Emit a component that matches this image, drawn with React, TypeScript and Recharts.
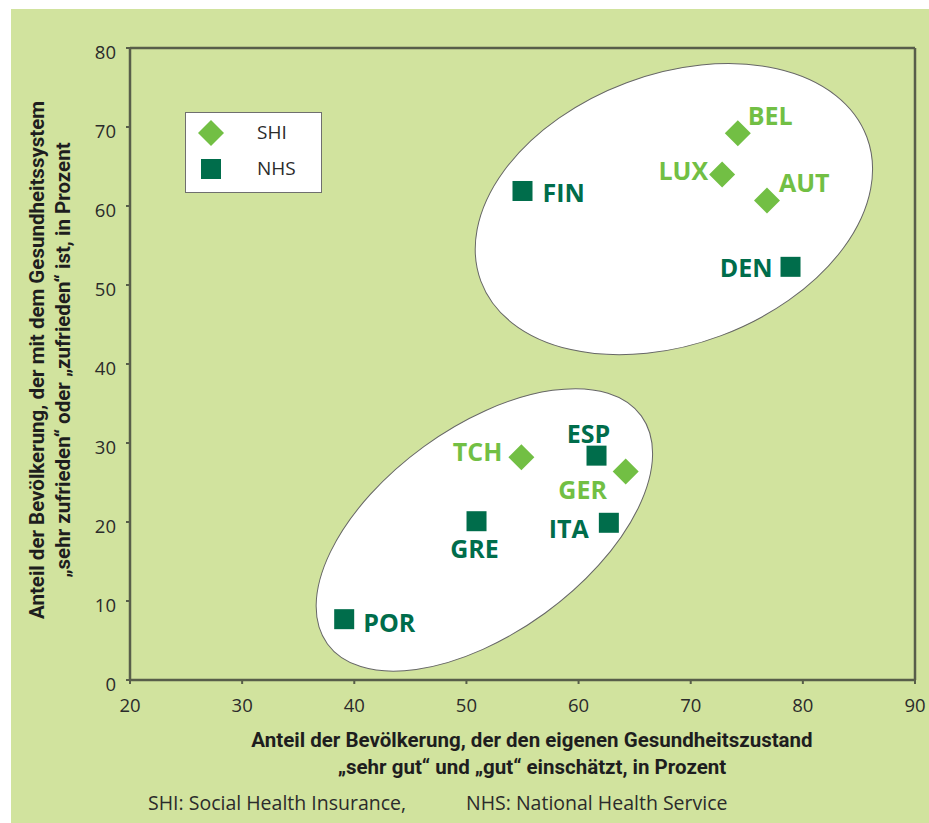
import React from 'react';
import { ScatterChart, Scatter, XAxis, YAxis, ReferenceLine } from 'recharts';

// ---- data ----
const shiPoints = [
  { name: 'BEL', x: 74.2, y: 69.2 },
  { name: 'LUX', x: 72.8, y: 64.0 },
  { name: 'AUT', x: 76.8, y: 60.7 },
  { name: 'TCH', x: 54.9, y: 28.2 },
  { name: 'GER', x: 64.2, y: 26.4 },
];
const nhsPoints = [
  { name: 'FIN', x: 55.0, y: 61.9 },
  { name: 'DEN', x: 78.9, y: 52.3 },
  { name: 'ESP', x: 61.6, y: 28.4 },
  { name: 'GRE', x: 50.9, y: 20.1 },
  { name: 'ITA', x: 62.7, y: 19.9 },
  { name: 'POR', x: 39.1, y: 7.7 },
];
const clusterCenters = [
  { name: 'high', x: 68.5, y: 59.6 },
  { name: 'low', x: 51.6, y: 19.0 },
];
const xTicks = [20, 30, 40, 50, 60, 70, 80, 90];
const yTicks = [0, 10, 20, 30, 40, 50, 60, 70, 80];
const seriesNames = ['SHI', 'NHS'];

// ---- styles ----
const LIGHT = '#72bf44';
const DARK = '#006d4b';
const BG = '#d1e39e';
const AXIS = '#585e4a';
const FONT = '"Open Sans", "Noto Sans", sans-serif';

const ellipseStyle: Record<string, { rx: number; ry: number; rot: number }> = {
  high: { rx: 206, ry: 135, rot: -20.5 },
  low: { rx: 194, ry: 103, rot: -36 },
};

const labelPlacement: Record<string, { dx: number; dy: number; anchor: string }> = {
  BEL: { dx: 10, dy: -18, anchor: 'start' },
  LUX: { dx: -14, dy: -4, anchor: 'end' },
  AUT: { dx: 12, dy: -18, anchor: 'start' },
  TCH: { dx: -19, dy: -6, anchor: 'end' },
  GER: { dx: -43, dy: 18, anchor: 'middle' },
  FIN: { dx: 20, dy: 1, anchor: 'start' },
  DEN: { dx: -18, dy: 0, anchor: 'end' },
  ESP: { dx: -8, dy: -23, anchor: 'middle' },
  GRE: { dx: -2, dy: 27, anchor: 'middle' },
  ITA: { dx: -20, dy: 5, anchor: 'end' },
  POR: { dx: 19, dy: 3, anchor: 'start' },
};

const PointLabel = ({ cx, cy, name, color }: any) => {
  const p = labelPlacement[name] || { dx: 15, dy: 0, anchor: 'start' };
  return (
    <text
      x={cx + p.dx}
      y={cy + p.dy}
      textAnchor={p.anchor as any}
      dominantBaseline="central"
      fill={color}
      fontFamily={FONT}
      fontWeight={700}
      fontSize={25}
    >
      {name}
    </text>
  );
};

const DiamondShape = (props: any) => {
  const { cx, cy, payload } = props;
  const r = 13;
  return (
    <g>
      <polygon
        points={`${cx},${cy - r} ${cx + r},${cy} ${cx},${cy + r} ${cx - r},${cy}`}
        fill={LIGHT}
      />
      <PointLabel cx={cx} cy={cy} name={payload.name} color={LIGHT} />
    </g>
  );
};

const SquareShape = (props: any) => {
  const { cx, cy, payload } = props;
  const s = 20;
  return (
    <g>
      <rect x={cx - s / 2} y={cy - s / 2} width={s} height={s} fill={DARK} />
      <PointLabel cx={cx} cy={cy} name={payload.name} color={DARK} />
    </g>
  );
};

const EllipseShape = (props: any) => {
  const { cx, cy, payload } = props;
  const e = ellipseStyle[payload.name];
  return (
    <ellipse
      cx={cx}
      cy={cy}
      rx={e.rx}
      ry={e.ry}
      transform={`rotate(${e.rot} ${cx} ${cy})`}
      fill="#ffffff"
      stroke="#666666"
      strokeWidth={1}
    />
  );
};

export default function App() {
  return (
    <div style={{ position: 'absolute', left: 0, top: 0, width: 929, height: 823, background: BG }}>
      <style>{`html, body { margin: 0; padding: 0; background: ${BG}; }`}</style>
      {/* white page margin at top and left */}
      <div style={{ position: 'absolute', left: 0, top: 0, width: 960, height: 9, background: '#ffffff' }} />
      <div style={{ position: 'absolute', left: 0, top: 0, width: 11, height: 823, background: '#ffffff' }} />
      <div style={{ position: 'absolute', left: 11, top: 9 }}>
        <ScatterChart width={918} height={814} margin={{ top: 39, right: 14, bottom: 113, left: 59 }}>
          <XAxis
            type="number"
            dataKey="x"
            domain={[20, 90]}
            ticks={xTicks}
            interval={0}
            allowDataOverflow
            axisLine={{ stroke: AXIS, strokeWidth: 2.5 }}
            tickLine={{ stroke: AXIS, strokeWidth: 2 }}
            tickSize={4}
            tickMargin={15}
            height={30}
            tick={{ fill: '#2b2b2b', fontSize: 18.5, fontFamily: FONT }}
          />
          <YAxis
            type="number"
            dataKey="y"
            domain={[0, 80]}
            ticks={yTicks}
            interval={0}
            allowDataOverflow
            axisLine={{ stroke: AXIS, strokeWidth: 2.5 }}
            tickLine={{ stroke: AXIS, strokeWidth: 2 }}
            tickSize={4}
            tickMargin={10}
            width={60}
            tick={{ fill: '#2b2b2b', fontSize: 18.5, fontFamily: FONT, dy: 4 }}
          />
          <ReferenceLine y={80} stroke={AXIS} strokeWidth={2.5} />
          <ReferenceLine x={90} stroke={AXIS} strokeWidth={2.5} />
          <Scatter name="clusters" data={clusterCenters} shape={EllipseShape} isAnimationActive={false} />
          <Scatter name={seriesNames[0]} data={shiPoints} shape={DiamondShape} isAnimationActive={false} />
          <Scatter name={seriesNames[1]} data={nhsPoints} shape={SquareShape} isAnimationActive={false} />
        </ScatterChart>
      </div>

      {/* legend */}
      <div
        style={{
          position: 'absolute',
          left: 185,
          top: 112,
          width: 135,
          height: 79,
          background: '#ffffff',
          border: '1px solid #6f6f6f',
          fontFamily: FONT,
          fontSize: 19,
          color: '#2b2b2b',
        }}
      >
        <svg width={40} height={79} style={{ position: 'absolute', left: 0, top: 0 }}>
          <polygon points="25,7 38,20 25,33 12,20" fill={LIGHT} />
          <rect x={15} y={46} width={20} height={20} fill={DARK} />
        </svg>
        <div style={{ position: 'absolute', left: 71, top: 6, lineHeight: '26px' }}>{seriesNames[0]}</div>
        <div style={{ position: 'absolute', left: 71, top: 42, lineHeight: '26px' }}>{seriesNames[1]}</div>
      </div>

      {/* y axis title */}
      <div
        style={{
          position: 'absolute',
          left: 50,
          top: 360,
          width: 640,
          transform: 'translate(-50%, -50%) rotate(-90deg)',
          textAlign: 'center',
          fontFamily: 'Roboto, sans-serif',
          fontWeight: 700,
          fontSize: 20.5,
          lineHeight: '26px',
          color: '#1e1e1e',
        }}
      >
        <div>Anteil der Bevölkerung, der mit dem Gesundheitssystem</div>
        <div>„sehr zufrieden“ oder „zufrieden“ ist, in Prozent</div>
      </div>

      {/* x axis title */}
      <div
        style={{
          position: 'absolute',
          left: 532,
          top: 754,
          width: 760,
          transform: 'translate(-50%, -50%)',
          textAlign: 'center',
          fontFamily: 'Roboto, sans-serif',
          fontWeight: 700,
          fontSize: 20.5,
          lineHeight: '27px',
          color: '#1e1e1e',
        }}
      >
        <div>Anteil der Bevölkerung, der den eigenen Gesundheitszustand</div>
        <div>„sehr gut“ und „gut“ einschätzt, in Prozent</div>
      </div>

      {/* footer */}
      <div style={{ position: 'absolute', left: 148, top: 790, fontFamily: FONT, fontSize: 19.5, color: '#2b2b2b', lineHeight: '26px', whiteSpace: 'nowrap' }}>
        SHI: Social Health Insurance,
      </div>
      <div style={{ position: 'absolute', left: 466, top: 790, fontFamily: FONT, fontSize: 19.5, color: '#2b2b2b', lineHeight: '26px', whiteSpace: 'nowrap' }}>
        NHS: National Health Service
      </div>
    </div>
  );
}
